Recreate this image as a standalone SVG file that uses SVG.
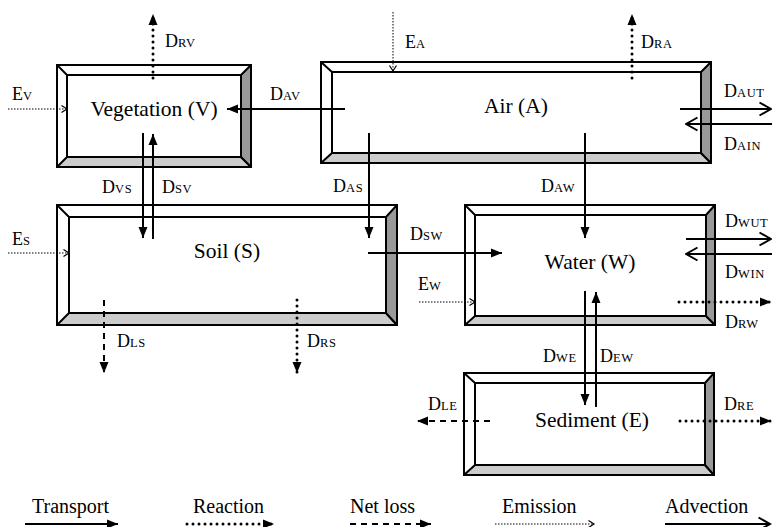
<svg xmlns="http://www.w3.org/2000/svg" width="772" height="527" viewBox="0 0 772 527" font-family="'Liberation Serif', 'Times New Roman', Times, 'DejaVu Serif', serif">
<style>
text{font-family:'Liberation Serif','Times New Roman',Times,'DejaVu Serif',serif;fill:#000}
.t{font-size:21.5px;text-anchor:middle}
.l{font-size:18px}
.s{font-size:12.5px;letter-spacing:0.6px}
.lg{font-size:20px}
.o{fill:#fff;stroke:#000;stroke-width:2}
.b{fill:#cccccc;stroke:#000;stroke-width:2;stroke-linejoin:round}
.r{fill:#999999;stroke:#000;stroke-width:2;stroke-linejoin:round}
.d{stroke:#000;stroke-width:2}
.solid{stroke:#000;stroke-width:2;fill:none}
.dot{stroke:#000;stroke-width:3;fill:none;stroke-dasharray:0 6;stroke-linecap:round}
.dash{stroke:#000;stroke-width:2;fill:none;stroke-dasharray:6 5}
.em{stroke:#000;stroke-width:1;fill:none;stroke-dasharray:1.5 1.5}
</style>
<defs>
<marker id="fa" markerUnits="userSpaceOnUse" markerWidth="12" markerHeight="10" refX="11" refY="5" orient="auto"><path d="M0,0.5 L11,5 L0,9.5 z" fill="#000"/></marker>
<marker id="ch" markerUnits="userSpaceOnUse" markerWidth="14" markerHeight="16" refX="12.5" refY="8" orient="auto"><path d="M1,1.5 L12.5,8 L1,14.5" fill="none" stroke="#000" stroke-width="2"/></marker>
<marker id="ec" markerUnits="userSpaceOnUse" markerWidth="8" markerHeight="10" refX="6.5" refY="5" orient="auto"><path d="M1,1.5 L6.5,5 L1,8.5" fill="none" stroke="#000" stroke-width="1.2"/></marker>
</defs>

<g id="vegetation">
<rect class="o" x="57" y="65" width="194" height="102"/>
<polygon class="b" points="57,167 251,167 241,157 67,157"/>
<polygon class="r" points="251,65 251,167 241,157 241,75"/>
<line class="d" x1="57" y1="65" x2="67" y2="75"/>
<rect class="o" x="67" y="75" width="174" height="82"/>
<text class="t" x="154" y="116">Vegetation (V)</text>
</g>

<g id="air">
<rect class="o" x="321" y="62" width="390" height="101"/>
<polygon class="b" points="321,163 711,163 701,153 332,153"/>
<polygon class="r" points="711,62 711,163 701,153 701,72"/>
<line class="d" x1="321" y1="62" x2="332" y2="72"/>
<rect class="o" x="332" y="72" width="369" height="81"/>
<text class="t" x="516" y="113">Air (A)</text>
</g>

<g id="soil">
<rect class="o" x="57" y="205" width="340" height="120"/>
<polygon class="b" points="57,325 397,325 386,313 69,313"/>
<polygon class="r" points="397,205 397,325 386,313 386,217"/>
<line class="d" x1="57" y1="205" x2="69" y2="217"/>
<rect class="o" x="69" y="217" width="317" height="96"/>
<text class="t" x="227" y="258">Soil (S)</text>
</g>

<g id="water">
<rect class="o" x="465" y="205" width="250" height="120"/>
<polygon class="b" points="465,325 715,325 706,316 475,316"/>
<polygon class="r" points="715,205 715,325 706,316 706,215"/>
<line class="d" x1="465" y1="205" x2="475" y2="215"/>
<rect class="o" x="475" y="215" width="231" height="101"/>
<text class="t" x="590" y="269">Water (W)</text>
</g>

<g id="sediment">
<rect class="o" x="464" y="373" width="250" height="102"/>
<polygon class="b" points="464,475 714,475 705,465 475,465"/>
<polygon class="r" points="714,373 714,475 705,465 705,383"/>
<line class="d" x1="464" y1="373" x2="475" y2="383"/>
<rect class="o" x="475" y="383" width="230" height="82"/>
<text class="t" x="592" y="427">Sediment (E)</text>
</g>

<g id="connectors">
<line class="dot" x1="153" y1="78" x2="153" y2="14" marker-end="url(#fa)"/>
<line class="em" x1="8" y1="109" x2="67" y2="109" marker-end="url(#ec)"/>
<line class="solid" x1="345" y1="109" x2="227" y2="109" marker-end="url(#fa)"/>
<line class="solid" x1="143" y1="133" x2="143" y2="238" marker-end="url(#fa)"/>
<line class="solid" x1="153" y1="239" x2="153" y2="134" marker-end="url(#fa)"/>
<line class="em" x1="393" y1="12" x2="393" y2="71" marker-end="url(#ec)"/>
<line class="dot" x1="632" y1="78" x2="632" y2="14" marker-end="url(#fa)"/>
<line class="solid" x1="680" y1="109" x2="771" y2="109" marker-end="url(#ch)"/>
<line class="solid" x1="772" y1="124" x2="686" y2="124" marker-end="url(#ch)"/>
<line class="solid" x1="369" y1="133" x2="369" y2="238" marker-end="url(#fa)"/>
<line class="solid" x1="585" y1="133" x2="585" y2="238" marker-end="url(#fa)"/>
<line class="em" x1="8" y1="253" x2="69" y2="253" marker-end="url(#ec)"/>
<line class="solid" x1="368" y1="253" x2="502" y2="253" marker-end="url(#fa)"/>
<line class="dash" x1="104" y1="300" x2="104" y2="373" marker-end="url(#fa)"/>
<line class="dot" x1="297" y1="300" x2="297" y2="373" marker-end="url(#fa)"/>
<line class="solid" x1="686" y1="239" x2="771" y2="239" marker-end="url(#ch)"/>
<line class="solid" x1="772" y1="254" x2="686" y2="254" marker-end="url(#ch)"/>
<line class="em" x1="419" y1="302" x2="475" y2="302" marker-end="url(#ec)"/>
<line class="dot" x1="679" y1="302" x2="771" y2="302" marker-end="url(#fa)"/>
<line class="solid" x1="585" y1="291" x2="585" y2="405" marker-end="url(#fa)"/>
<line class="solid" x1="596" y1="407" x2="596" y2="292" marker-end="url(#fa)"/>
<line class="dash" x1="490" y1="421" x2="417" y2="421" marker-end="url(#fa)"/>
<line class="dot" x1="680" y1="421" x2="771" y2="421" marker-end="url(#fa)"/>
</g>

<g id="labels">
<text class="l" x="165" y="47">D<tspan class="s">RV</tspan></text>
<text class="l" x="12" y="100">E<tspan class="s">V</tspan></text>
<text class="l" x="270" y="100">D<tspan class="s">AV</tspan></text>
<text class="l" x="102" y="193">D<tspan class="s">VS</tspan></text>
<text class="l" x="162" y="193">D<tspan class="s">SV</tspan></text>
<text class="l" x="405" y="48">E<tspan class="s">A</tspan></text>
<text class="l" x="641" y="48">D<tspan class="s">RA</tspan></text>
<text class="l" x="724" y="97">D<tspan class="s">AUT</tspan></text>
<text class="l" x="724" y="150">D<tspan class="s">AIN</tspan></text>
<text class="l" x="333" y="192">D<tspan class="s">AS</tspan></text>
<text class="l" x="541" y="192">D<tspan class="s">AW</tspan></text>
<text class="l" x="12" y="245">E<tspan class="s">S</tspan></text>
<text class="l" x="410" y="240">D<tspan class="s">SW</tspan></text>
<text class="l" x="117" y="347">D<tspan class="s">LS</tspan></text>
<text class="l" x="307" y="347">D<tspan class="s">RS</tspan></text>
<text class="l" x="725" y="227">D<tspan class="s">WUT</tspan></text>
<text class="l" x="725" y="278">D<tspan class="s">WIN</tspan></text>
<text class="l" x="418" y="290">E<tspan class="s">W</tspan></text>
<text class="l" x="725" y="328">D<tspan class="s">RW</tspan></text>
<text class="l" x="543" y="362">D<tspan class="s">WE</tspan></text>
<text class="l" x="600" y="362">D<tspan class="s">EW</tspan></text>
<text class="l" x="428" y="410">D<tspan class="s">LE</tspan></text>
<text class="l" x="724" y="410">D<tspan class="s">RE</tspan></text>
</g>

<g id="legend">
<text class="lg" x="32" y="513">Transport</text>
<line class="solid" x1="25" y1="524" x2="118" y2="524" marker-end="url(#fa)"/>
<text class="lg" x="193" y="513">Reaction</text>
<line class="dot" x1="187" y1="524" x2="274" y2="524" marker-end="url(#fa)"/>
<text class="lg" x="350" y="513">Net loss</text>
<line class="dash" x1="350" y1="524" x2="431" y2="524" marker-end="url(#fa)"/>
<text class="lg" x="502" y="513">Emission</text>
<line class="em" x1="495" y1="524" x2="594" y2="524" marker-end="url(#ec)"/>
<text class="lg" x="665" y="513">Advection</text>
<line class="solid" x1="665" y1="524" x2="770" y2="524" marker-end="url(#ch)"/>
</g>
</svg>
